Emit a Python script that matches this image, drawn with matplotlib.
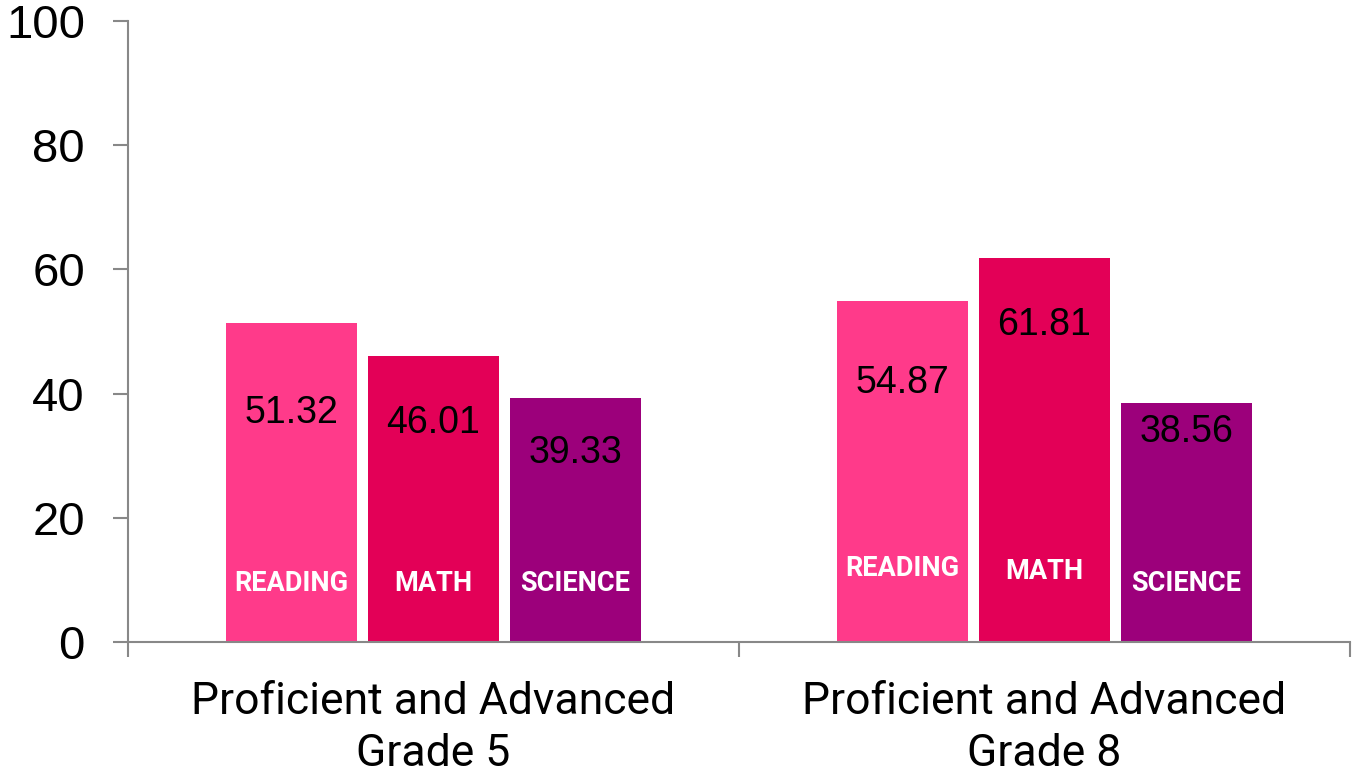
import matplotlib
matplotlib.use("Agg")
import matplotlib.pyplot as plt
import numpy as np
from matplotlib import font_manager

categories = ["Proficient and Advanced\nGrade 5", "Proficient and Advanced\nGrade 8"]
subjects = ["READING", "MATH", "SCIENCE"]
reading = [51.32, 54.87]
math_vals = [46.01, 61.81]
science = [39.33, 38.56]
series = [reading, math_vals, science]
colors = ["#FF3A8A", "#E30057", "#9C007B"]

# label placement (data y)
value_label_y = [[36.9, 41.7], [35.3, 51.0], [30.4, 33.8]]
subject_label_y = [[9.5, 11.9], [9.5, 11.3], [9.5, 9.5]]

names = {f.name for f in font_manager.fontManager.ttflist}
narrow = "Liberation Sans Narrow" if "Liberation Sans Narrow" in names else "Roboto"
plt.rcParams['font.family'] = ['Liberation Sans', 'DejaVu Sans']

fig = plt.figure(figsize=(13.52, 7.74), dpi=100)
ax = fig.add_axes([128/1352, 1-642/774, (1350-128)/1352, (642-21)/774])

x = np.arange(len(categories))
width = 0.213
step = 0.2325
for i, (vals, col) in enumerate(zip(series, colors)):
    pos = x + (i-1)*step
    ax.bar(pos, vals, width, color=col, zorder=2)
    for j, p in enumerate(pos):
        ax.text(p, value_label_y[i][j], f"{vals[j]:.2f}", ha='center', va='center',
                fontsize=27, color='black', zorder=3)
        ax.text(p, subject_label_y[i][j], subjects[i], ha='center', va='center',
                fontsize=19.5, color='white', family=[narrow, 'DejaVu Sans'],
                fontweight='bold', zorder=3)

ax.set_xlim(-0.5, 1.5)
ax.set_ylim(0, 100)
ax.set_yticks([0, 20, 40, 60, 80, 100])
ax.tick_params(axis='y', labelsize=34, length=11, width=1.5, color='#888888', pad=20)
ax.set_xticks([-0.5, 0.5, 1.5])
ax.set_xticklabels([])
ax.tick_params(axis='x', length=11, width=1.5, color='#888888')
for j, c in enumerate(categories):
    ax.text(x[j], -6.3, c, ha='center', va='top', fontsize=32,
            family=[narrow, 'DejaVu Sans'], linespacing=1.3, transform=ax.transData)

for s in ['top', 'right']:
    ax.spines[s].set_visible(False)
for s in ['left', 'bottom']:
    ax.spines[s].set_color('#888888')
    ax.spines[s].set_linewidth(1.5)

fig.savefig("out.png", dpi=100)
